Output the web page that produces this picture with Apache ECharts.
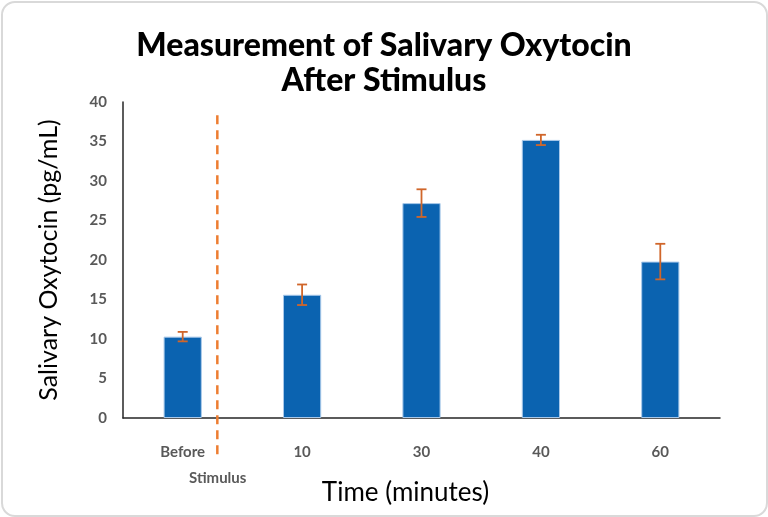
<!DOCTYPE html>
<html>
<head>
<meta charset="utf-8">
<script src="https://cdn.jsdelivr.net/npm/echarts@6/dist/echarts.min.js"></script>
<style>
  html, body { margin: 0; padding: 0; background: #fff; }
  #frame {
    position: absolute; left: 1px; top: 1px; width: 763px; height: 512px;
    border: 2px solid #d9d9d9; border-radius: 14px; box-sizing: content-box;
  }
  #chart { position: absolute; left: 0; top: 0; width: 768px; height: 517px; }
</style>
</head>
<body>
<div id="frame"></div>
<div id="chart"></div>
<script>
// time points
var categories = ['Before Stimulus', '10', '30', '40', '60']
// mean salivary oxytocin (pg/mL)
var means = [10.3, 15.6, 27.2, 35.2, 19.8]
// error bar half-lengths
var errors = [0.6, 1.3, 1.75, 0.65, 2.25]
// y axis ticks
var yMin = 0
var yMax = 40
var yStep = 5
// dashed "stimulus" divider: position in category units and its vertical extent
var dividerX = 0.29
var dividerRange = [-4.6, 38.5]

var chart = echarts.init(document.getElementById('chart'))

var errorData = means.map(function (m, i) {
  return [i, m - errors[i], m + errors[i]]
})

var tickFont = { fontFamily: 'Lato', fontWeight: 'bold', fontSize: 15, color: '#595959' }

chart.setOption({
  animation: false,
  title: {
    text: 'Measurement of Salivary Oxytocin\nAfter Stimulus',
    left: 'center',
    top: 23,
    textStyle: {
      fontFamily: 'Lato',
      fontWeight: 900,
      fontSize: 32,
      lineHeight: 35,
      color: '#000'
    }
  },
  grid: {
    left: 123,
    right: 48,
    top: 102,
    bottom: 99,
    containLabel: false,
    outerBoundsMode: 'none'
  },
  xAxis: [{
    type: 'category',
    data: categories,
    name: 'Time (minutes)',
    nameLocation: 'middle',
    nameGap: 62,
    nameMoveOverlap: false,
    nameTextStyle: { fontFamily: 'Lato', fontSize: 26, color: '#000', padding: [0, 32, 0, 0] },
    axisLine: { onZero: false, lineStyle: { color: '#262626', width: 1.5 } },
    axisTick: { show: false },
    axisLabel: Object.assign({
      margin: 21,
      lineHeight: 26,
      formatter: function (v) {
        if (v === 'Before Stimulus') return '{a|Before}\n{b|Stimulus}'
        return v
      },
      rich: {
        a: Object.assign({ lineHeight: 26 }, tickFont),
        b: Object.assign({ lineHeight: 26, padding: [0, 0, 0, 70] }, tickFont)
      }
    }, tickFont)
  }, {
    type: 'value',
    min: -0.5,
    max: categories.length - 0.5,
    show: false
  }],
  yAxis: {
    type: 'value',
    min: yMin,
    max: yMax,
    interval: yStep,
    name: 'Salivary Oxytocin (pg/mL)',
    nameLocation: 'middle',
    nameGap: 62,
    nameMoveOverlap: false,
    nameTextStyle: { fontFamily: 'Lato', fontSize: 25, color: '#000' },
    axisLine: { show: true, onZero: false, lineStyle: { color: '#262626', width: 1.5 } },
    axisTick: { show: false },
    splitLine: { show: false },
    axisLabel: Object.assign({ margin: 16 }, tickFont)
  },
  series: [{
    type: 'bar',
    data: means,
    barWidth: '32%',
    itemStyle: {
      color: '#0b63b0',
      borderColor: '#a9c9ea',
      borderWidth: 1
    }
  }, {
    type: 'custom',
    data: errorData,
    z: 5,
    renderItem: function (params, api) {
      var x = api.value(0)
      var lo = api.coord([x, api.value(1)])
      var hi = api.coord([x, api.value(2)])
      var cap = 5
      var style = { stroke: '#d0662a', lineWidth: 1.8 }
      return {
        type: 'group',
        children: [
          { type: 'line', shape: { x1: lo[0], y1: lo[1], x2: hi[0], y2: hi[1] }, style: style },
          { type: 'line', shape: { x1: lo[0] - cap, y1: lo[1], x2: lo[0] + cap, y2: lo[1] }, style: style },
          { type: 'line', shape: { x1: hi[0] - cap, y1: hi[1], x2: hi[0] + cap, y2: hi[1] }, style: style }
        ]
      }
    }
  }, {
    type: 'line',
    xAxisIndex: 1,
    data: [[dividerX, dividerRange[0]], [dividerX, dividerRange[1]]],
    clip: false,
    symbol: 'none',
    silent: true,
    z: 6,
    lineStyle: { color: '#ed7d31', width: 2.5, type: [9, 6] }
  }]
})
</script>
</body>
</html>
